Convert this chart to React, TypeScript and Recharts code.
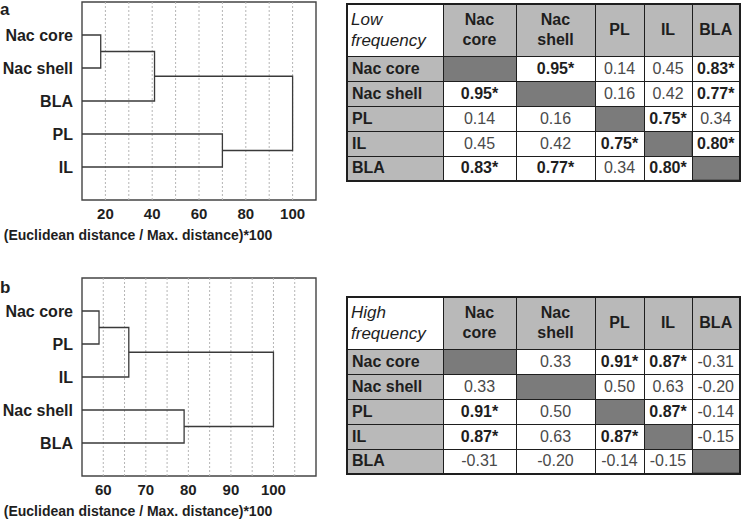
import React from "react";
import {
  ComposedChart,
  Line,
  XAxis,
  YAxis,
  ReferenceLine,
  ReferenceArea,
  Label,
} from "recharts";

// dendrogram a (low frequency)
const leavesLow = ["Nac core", "Nac shell", "BLA", "PL", "IL"];
// [child a, child b, height]; children 0-4 are leaves, 5+ are earlier merges
const mergesLow: [number, number, number][] = [
  [0, 1, 18],
  [5, 2, 41],
  [3, 4, 70],
  [6, 7, 100],
];
const ticksLow = [20, 40, 60, 80, 100];
const gridLow = [20, 30, 40, 50, 60, 70, 80, 90, 100];
const domainLow: [number, number] = [10, 110];

// dendrogram b (high frequency)
const leavesHigh = ["Nac core", "PL", "IL", "Nac shell", "BLA"];
const mergesHigh: [number, number, number][] = [
  [0, 1, 59],
  [5, 2, 66],
  [3, 4, 79],
  [6, 7, 100],
];
const ticksHigh = [60, 70, 80, 90, 100];
const gridHigh = [60, 65, 70, 75, 80, 85, 90, 95, 100, 105];
const domainHigh: [number, number] = [55, 110];

// correlation tables
const regions = ["Nac core", "Nac shell", "PL", "IL", "BLA"];
const headerLabels = [["Nac", "core"], ["Nac", "shell"], ["PL"], ["IL"], ["BLA"]];

const lowValues = [
  [null, 0.95, 0.14, 0.45, 0.83],
  [0.95, null, 0.16, 0.42, 0.77],
  [0.14, 0.16, null, 0.75, 0.34],
  [0.45, 0.42, 0.75, null, 0.8],
  [0.83, 0.77, 0.34, 0.8, null],
];
const lowStars = [
  [false, true, false, false, true],
  [true, false, false, false, true],
  [false, false, false, true, false],
  [false, false, true, false, true],
  [true, true, false, true, false],
];

const highValues = [
  [null, 0.33, 0.91, 0.87, -0.31],
  [0.33, null, 0.5, 0.63, -0.2],
  [0.91, 0.5, null, 0.87, -0.14],
  [0.87, 0.63, 0.87, null, -0.15],
  [-0.31, -0.2, -0.14, -0.15, null],
];
const highStars = [
  [false, false, true, true, false],
  [false, false, false, false, false],
  [true, false, false, true, false],
  [true, false, true, false, false],
  [false, false, false, false, false],
];

const FONT = "'Liberation Sans', Arial, Helvetica, sans-serif";
const INK = "#1e1e1e";
const GRAY = "#b9b9b9";
const colWidths = [96, 73, 79, 49, 48, 48];

interface DendrogramProps {
  leaves: string[];
  merges: [number, number, number][];
  domain: [number, number];
  ticks: number[];
  grid: number[];
  top: number;
  marginTop: number;
  height: number;
}

function Dendrogram({ leaves, merges, domain, ticks, grid, top, marginTop, height }: DendrogramProps) {
  const nodes = leaves.map((_, i) => ({ x: domain[0], y: i + 1 }));
  const links = merges.map(([a, b, h]) => {
    const na = nodes[a];
    const nb = nodes[b];
    nodes.push({ x: h, y: (na.y + nb.y) / 2 });
    return [
      { x: na.x, y: na.y },
      { x: h, y: na.y },
      { x: h, y: nb.y },
      { x: nb.x, y: nb.y },
    ];
  });

  return (
    <div style={{ position: "absolute", left: 0, top }}>
      <ComposedChart
        width={330}
        height={height}
        margin={{ top: marginTop, right: 14, bottom: height - marginTop - 198 - 45, left: 0 }}
      >
        <XAxis
          type="number"
          dataKey="x"
          domain={domain}
          ticks={ticks}
          allowDataOverflow
          axisLine={false}
          tickLine={false}
          height={45}
          tick={{ fontSize: 15, fontWeight: 700, fill: INK, fontFamily: FONT }}
        >
          <Label
            value="(Euclidean distance / Max. distance)*100"
            position="insideBottom"
            offset={5}
            dx={-61}
            style={{ fontSize: 14, fontWeight: 700, fill: INK, fontFamily: FONT }}
          />
        </XAxis>
        <YAxis
          type="number"
          dataKey="y"
          domain={[0, 6]}
          reversed
          ticks={[1, 2, 3, 4, 5]}
          tickFormatter={(v: number) => leaves[v - 1]}
          width={82}
          axisLine={false}
          tickLine={false}
          tickMargin={3}
          tick={{ fontSize: 16, fontWeight: 700, fill: INK, fontFamily: FONT }}
        />
        {grid.map((g) => (
          <ReferenceLine key={g} x={g} stroke="#b5b5b5" strokeDasharray="2 2" />
        ))}
        <ReferenceArea
          x1={domain[0]}
          x2={domain[1]}
          y1={0}
          y2={6}
          fill="none"
          fillOpacity={0}
          stroke="#444"
          strokeWidth={1.4}
        />
        {links.map((d, i) => (
          <Line
            key={i}
            data={d}
            dataKey="y"
            type="linear"
            stroke="#3a3a3a"
            strokeWidth={1.3}
            dot={false}
            activeDot={false}
            isAnimationActive={false}
          />
        ))}
      </ComposedChart>
    </div>
  );
}

const border = `1.6px solid ${INK}`;
const hatch = {
  backgroundColor: "#d2d2d2",
  backgroundImage:
    "repeating-linear-gradient(0deg, #5e5e5e 0px, #5e5e5e 1px, transparent 1px, transparent 2px), repeating-linear-gradient(90deg, #5e5e5e 0px, #5e5e5e 1px, transparent 1px, transparent 2px)",
};

interface CorrTableProps {
  title: string[];
  values: (number | null)[][];
  stars: boolean[][];
  top: number;
}

function CorrTable({ title, values, stars, top }: CorrTableProps) {
  return (
    <table
      style={{
        position: "absolute",
        left: 346,
        top,
        width: 393,
        borderCollapse: "collapse",
        tableLayout: "fixed",
        fontFamily: FONT,
        color: INK,
        border: `2.2px solid ${INK}`,
      }}
    >
      <colgroup>
        {colWidths.map((w, i) => (
          <col key={i} style={{ width: w }} />
        ))}
      </colgroup>
      <tbody>
        <tr style={{ height: 52 }}>
          <td
            style={{
              border,
              background: "#fff",
              fontStyle: "italic",
              fontSize: 17,
              lineHeight: "21px",
              padding: "0 3px",
              whiteSpace: "nowrap",
            }}
          >
            {title[0]}
            <br />
            {title[1]}
          </td>
          {headerLabels.map((h, i) => (
            <td
              key={i}
              style={{
                border,
                background: GRAY,
                fontWeight: 700,
                fontSize: 16,
                lineHeight: "20px",
                textAlign: "center",
                padding: 0,
              }}
            >
              {h.map((t, j) => (
                <div key={j}>{t}</div>
              ))}
            </td>
          ))}
        </tr>
        {regions.map((r, ri) => (
          <tr key={r} style={{ height: 25 }}>
            <td
              style={{
                border,
                background: GRAY,
                fontWeight: 700,
                fontSize: 16,
                padding: "0 4px",
                whiteSpace: "nowrap",
              }}
            >
              {r}
            </td>
            {values[ri].map((v, ci) =>
              v === null ? (
                <td key={ci} style={{ border, ...hatch }} />
              ) : (
                <td
                  key={ci}
                  style={{
                    border,
                    background: "#fff",
                    textAlign: "center",
                    fontSize: 16,
                    fontWeight: stars[ri][ci] ? 700 : 400,
                    color: stars[ri][ci] ? INK : "#4a4a4a",
                    padding: 0,
                    whiteSpace: "nowrap",
                  }}
                >
                  {v.toFixed(2)}
                  {stars[ri][ci] ? "*" : ""}
                </td>
              )
            )}
          </tr>
        ))}
      </tbody>
    </table>
  );
}

export default function App() {
  return (
    <div
      style={{
        position: "absolute",
        left: 0,
        top: 0,
        width: 743,
        height: 522,
        background: "#fff",
        fontFamily: FONT,
        overflow: "hidden",
      }}
    >
      <div style={{ position: "absolute", left: 0, top: 0, fontSize: 17, lineHeight: "19.5px", fontWeight: 700, color: INK }}>
        a
      </div>
      <div style={{ position: "absolute", left: 0, top: 278, fontSize: 17, lineHeight: "19.5px", fontWeight: 700, color: INK }}>
        b
      </div>
      <Dendrogram
        leaves={leavesLow}
        merges={mergesLow}
        domain={domainLow}
        ticks={ticksLow}
        grid={gridLow}
        top={0}
        marginTop={2}
        height={250}
      />
      <Dendrogram
        leaves={leavesHigh}
        merges={mergesHigh}
        domain={domainHigh}
        ticks={ticksHigh}
        grid={gridHigh}
        top={260}
        marginTop={18}
        height={262}
      />
      <CorrTable title={["Low", "frequency"]} values={lowValues} stars={lowStars} top={3} />
      <CorrTable title={["High", "frequency"]} values={highValues} stars={highStars} top={296} />
    </div>
  );
}
